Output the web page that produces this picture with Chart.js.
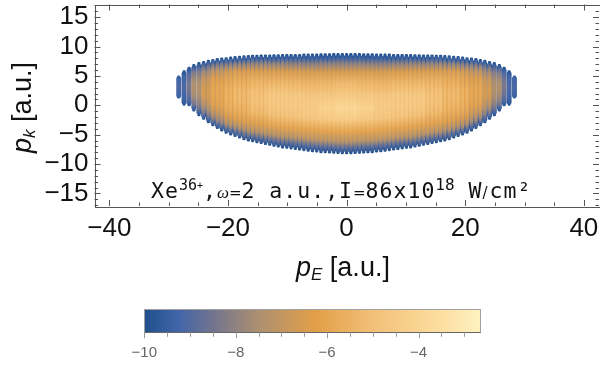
<!DOCTYPE html>
<html><head><meta charset="utf-8">
<script src="https://cdn.jsdelivr.net/npm/chart.js@4"></script>
<style>html,body{margin:0;padding:0;background:#fff;width:600px;height:372px;overflow:hidden}
#wrap{position:relative;width:600px;height:372px}
canvas{position:absolute;left:0}</style></head>
<body><div id="wrap"><canvas id="main" width="600" height="372" style="top:0"></canvas><canvas id="bar" width="600" height="77" style="top:295px"></canvas></div>
<script>
// Axis ticks
const xLabelTicks=[-40,-20,0,20,40];
const xMinorTicks=[-40,-35,-30,-25,-20,-15,-10,-5,0,5,10,15,20,25,30,35,40];
const yLabelTicks=[-15,-10,-5,0,5,10,15];
const yMinorTicks=[-17,-16,-15,-14,-13,-12,-11,-10,-9,-8,-7,-6,-5,-4,-3,-2,-1,0,1,2,3,4,5,6,7,8,9,10,11,12,13,14,15,16,17];
const barLabelTicks=[-10,-8,-6,-4];
const barMinorTicks=[-10,-9.5,-9,-8.5,-8,-7.5,-7,-6.5,-6,-5.5,-5,-4.5,-4,-3.5,-3];
// Fringes, pE >= 0 (the picture is mirror symmetric)
const fringePE=[0,0.72,1.44,2.16,2.88,3.6,4.32,5.04,5.76,6.48,7.2,7.92,8.64,9.36,10.08,10.8,11.52,12.24,12.96,13.68,14.4,15.12,15.84,16.56,17.3,18.05,18.8,19.55,20.3,21.05,21.8,22.55,23.3,24.1,24.9,25.75,26.55,27.4,28.3];
const fringeTop=[8.85,8.85,8.85,8.85,8.8,8.8,8.8,8.75,8.75,8.75,8.75,8.7,8.7,8.7,8.7,8.7,8.65,8.65,8.6,8.6,8.6,8.55,8.55,8.5,8.45,8.4,8.35,8.25,8.15,8.1,8.0,7.85,7.7,7.5,7.3,7.0,6.5,5.9,5.0];
const fringeBottom=[-8.3,-8.3,-8.25,-8.2,-8.15,-8.1,-8.1,-8.0,-7.95,-7.85,-7.75,-7.65,-7.55,-7.45,-7.35,-7.3,-7.15,-7.0,-6.85,-6.7,-6.55,-6.4,-6.25,-6.1,-5.9,-5.6,-5.35,-5.1,-4.8,-4.4,-4.0,-3.5,-3.0,-2.4,-1.8,-1.0,-0.1,0,1.2];
// log10 intensity: columns at valuePE, rows at fractions of the fringe (top to bottom)
const rowFraction=[0,.04,.1,.18,.3,.42,.54,.66,.78,.88,.95,1];
const valuePE=[0,3,6,9,12,15,18,20,22,24,25.5,26.5,27.4,28.3];
const pe0=[-10,-9.4,-8,-6.5,-5.2,-4.5,-3.9,-4.4,-6,-7.2,-8.9,-10];
const pe3=[-10,-9.4,-8,-6.5,-5.3,-4.6,-4.1,-4.5,-6,-7.2,-8.9,-10];
const pe6=[-10,-9.4,-8,-6.5,-5.4,-4.7,-4.4,-4.7,-6,-7.2,-8.9,-10];
const pe9=[-10,-9.3,-7.9,-6.4,-5.3,-4.6,-4.5,-4.8,-6,-7.2,-8.9,-10];
const pe12=[-10,-9.3,-7.8,-6.4,-5.3,-4.6,-4.5,-4.9,-6,-7.2,-8.8,-10];
const pe15=[-10,-9.2,-7.8,-6.4,-5.4,-4.9,-4.8,-5.2,-6.1,-7.2,-8.8,-10];
const pe18=[-10,-9.2,-7.8,-6.4,-5.6,-5.2,-5.2,-5.5,-6.2,-7.3,-8.8,-10];
const pe20=[-10,-9.2,-7.9,-6.6,-5.9,-5.5,-5.5,-5.7,-6.4,-7.4,-8.9,-10];
const pe22=[-10,-9.3,-8,-7,-6.2,-5.9,-5.9,-6.1,-6.8,-7.7,-9,-10];
const pe24=[-10,-9.4,-8.4,-7.6,-6.9,-6.6,-6.5,-6.8,-7.4,-8.2,-9.2,-10];
const pe25=[-10,-9.6,-8.9,-8.2,-7.7,-7.4,-7.4,-7.6,-8,-8.6,-9.4,-10];
const pe26=[-10,-9.7,-9.3,-8.9,-8.6,-8.4,-8.4,-8.5,-8.8,-9.1,-9.5,-10];
const pe27=[-10,-9.7,-9.5,-9.3,-9.2,-9.1,-9.1,-9.2,-9.3,-9.5,-9.6,-10];
const pe28=[-9.6,-9.4,-9.3,-9.2,-9.2,-9.1,-9.1,-9.2,-9.2,-9.3,-9.4,-9.6];
const valueColumns=[pe0,pe3,pe6,pe9,pe12,pe15,pe18,pe20,pe22,pe24,pe25,pe26,pe27,pe28];
const valleyDrop=[.2,.25,.3,.4,.5,.6,.7,.75,.7,.5,.2,0,0,0];
// Colour bar
const barRange=[-10,-2.64];
const cmapValues=[-10,-9.25,-8.5,-7.5,-6.25,-5,-3.7,-2.64];
const cmapColors=['#1f4f8b','#4265a9','#72748f','#ad9070','#e29f48','#f2c078','#fcdb9b','#fff2c0'];

const rgb=cmapColors.map(h=>[1,3,5].map(i=>parseInt(h.substr(i,2),16)));
function colorOf(v){
  if(v<=cmapValues[0])return cmapColors[0];
  for(let i=1;i<cmapValues.length;i++){
    if(v<=cmapValues[i]){
      const t=(v-cmapValues[i-1])/(cmapValues[i]-cmapValues[i-1]);
      const c=rgb[i].map((b,k)=>Math.round(rgb[i-1][k]+(b-rgb[i-1][k])*t));
      return `rgb(${c[0]},${c[1]},${c[2]})`;
    }
  }
  return cmapColors[cmapColors.length-1];
}
function nearestColumn(pe){
  let b=0;valuePE.forEach((p,i)=>{if(Math.abs(p-Math.abs(pe))<Math.abs(valuePE[b]-Math.abs(pe)))b=i;});
  return b;
}
const idx=fringePE.map((_,i)=>i);
const order=[...idx.slice(1).reverse().map(i=>({i,s:-1})),...idx.map(i=>({i,s:1}))];
const ridgeData=order.map(o=>({x:o.s*fringePE[o.i],y:[fringeBottom[o.i],fringeTop[o.i]]}));
const valleyData=order.map(o=>{const f=fringeTop[o.i]-fringeBottom[o.i];const d=Math.min(.35,f*.04);return {x:o.s*fringePE[o.i],y:[fringeBottom[o.i]+d,fringeTop[o.i]-d]};});

function fringeFill(drop){
  return ctx=>{
    const c=ctx.chart, d=ctx.raw; if(!c.chartArea||!d)return '#4265a9';
    const ys=c.scales.y, g=c.ctx.createLinearGradient(0,ys.getPixelForValue(d.y[1]),0,ys.getPixelForValue(d.y[0]));
    const k=nearestColumn(d.x), col=valueColumns[k];
    rowFraction.forEach((f,i)=>g.addColorStop(f,colorOf(col[i]-(drop?valleyDrop[k]:0))));
    return g;
  };
}
const MONO='"DejaVu Sans Mono"';
const frame={id:'frame',afterDatasetsDraw(c){
  const {ctx:g,chartArea:a,scales:{x,y}}=c;
  g.save();g.strokeStyle='#555';g.lineWidth=1;
  const px=v=>Math.round(v)+.5;
  g.strokeRect(px(a.left),px(a.top),Math.round(a.right-a.left),Math.round(a.bottom-a.top));
  g.beginPath();
  xMinorTicks.forEach(v=>{const p=px(x.getPixelForValue(v)),l=xLabelTicks.includes(v)?6:3.5;
    g.moveTo(p,a.bottom);g.lineTo(p,a.bottom-l);g.moveTo(p,a.top);g.lineTo(p,a.top+l);});
  yMinorTicks.forEach(v=>{const p=px(y.getPixelForValue(v)),l=yLabelTicks.includes(v)?6:3.5;
    g.moveTo(a.left,p);g.lineTo(a.left+l,p);g.moveTo(a.right,p);g.lineTo(a.right-l,p);});
  g.stroke();g.restore();
  runs(g,151,198,[['Xe','21.5px '+MONO,0,1],['36','15px '+MONO,-8,0],['+','10px '+MONO,-9,0],[',','21.5px '+MONO,0,1],['ω','italic 17px "Liberation Serif"',0,0],['=','15px "DejaVu Sans"',0,0],['2 a.u.,I','21.5px '+MONO,0,1],['=','15px "DejaVu Sans"',0,0],['86x10','21.5px '+MONO,0,1],['18','16px '+MONO,-8,0],[' W','21.5px '+MONO,0,1],['/','15px "DejaVu Sans"',0,2],['cm²','21.5px '+MONO,0,1]]);
  const F='27px "Liberation Sans"';
  runs(g,296,276,[['p','italic 27px "Liberation Sans"',0,0],['E','italic 17px "Liberation Sans"',4,0],[' [a.u.]',F,0,0]]);
  g.save();g.translate(31,153);g.rotate(-Math.PI/2);
  runs(g,0,0,[['p','italic 27px "Liberation Sans"',0,0],['k','italic 17px "Liberation Sans"',4,0],[' [a.u.]',F,0,0]]);
  g.restore();
}};
function runs(g,x,y,list){
  g.save();g.fillStyle='#111';g.textAlign='left';g.textBaseline='alphabetic';
  list.forEach(([t,f,dy,ls])=>{g.font=f;g.letterSpacing=ls+'px';g.fillText(t,x,y+dy);x+=g.measureText(t).width;});
  g.restore();
}
const minus=v=>String(v).replace('-','\u2212');
new Chart(document.getElementById('main'),{
  type:'bar',
  data:{datasets:[
    {label:'ridges',data:ridgeData,barThickness:2.6,grouped:false,order:1,backgroundColor:fringeFill(false),borderRadius:1.3,borderSkipped:false,borderWidth:0},
    {label:'valleys',data:valleyData,barThickness:4.3,grouped:false,order:2,backgroundColor:fringeFill(true),borderRadius:2,borderSkipped:false,borderWidth:0}
  ]},
  options:{responsive:false,animation:false,parsing:{xAxisKey:'x',yAxisKey:'y'},
    layout:{padding:{left:0,right:1,top:4.5,bottom:0}},
    plugins:{legend:{display:false},tooltip:{enabled:false}},
    scales:{
      x:{type:'linear',offset:false,min:-42.5,max:42.55,grid:{display:false,drawTicks:false},border:{display:false},
        afterBuildTicks:s=>{s.ticks=xLabelTicks.map(value=>({value}));},
        afterFit:s=>{s.height=166;s.paddingLeft=0;s.paddingRight=0;},
        ticks:{autoSkip:false,maxRotation:0,padding:7,color:'#111',font:{family:'"Liberation Sans"',size:26},callback:minus}},
      y:{type:'linear',min:-17.15,max:17.17,grid:{display:false,drawTicks:false},border:{display:false},
        afterBuildTicks:s=>{s.ticks=yLabelTicks.map(value=>({value}));},
        afterFit:s=>{s.width=94.5;s.paddingTop=0;s.paddingBottom=0;},
        ticks:{autoSkip:false,padding:6,color:'#111',font:{family:'"Liberation Sans"',size:26},callback:minus}}
    }},
  plugins:[frame]
});
const barFrame={id:'barFrame',afterDatasetsDraw(c){
  const {ctx:g,chartArea:a,scales:{x}}=c;
  g.save();g.lineWidth=1;g.strokeStyle='#a0a0a0';
  const px=v=>Math.round(v)+.5;
  g.strokeRect(px(a.left),px(a.top),Math.round(a.right-a.left),Math.round(a.bottom-a.top));
  g.strokeStyle='#666';g.beginPath();g.moveTo(a.left,px(a.bottom));g.lineTo(a.right,px(a.bottom));g.stroke();
  g.strokeStyle='#999';g.beginPath();
  barMinorTicks.forEach(v=>{const p=px(x.getPixelForValue(v));g.moveTo(p,a.bottom);g.lineTo(p,a.bottom+(barLabelTicks.includes(v)?6:4.5));});
  g.stroke();g.restore();
}};
new Chart(document.getElementById('bar'),{
  type:'bar',
  data:{labels:[''],datasets:[{data:[barRange],barPercentage:1,categoryPercentage:1,borderWidth:0,borderSkipped:false,
    backgroundColor:ctx=>{const c=ctx.chart;if(!c.chartArea)return '#e29f48';
      const s=c.scales.x,g=c.ctx.createLinearGradient(s.getPixelForValue(barRange[0]),0,s.getPixelForValue(barRange[1]),0);
      cmapValues.forEach((v,i)=>g.addColorStop((v-barRange[0])/(barRange[1]-barRange[0]),cmapColors[i]));return g;}}]},
  options:{indexAxis:'y',responsive:false,animation:false,
    layout:{padding:{left:144.3,right:119.3,top:14.3,bottom:0}},
    plugins:{legend:{display:false},tooltip:{enabled:false}},
    scales:{
      y:{display:false},
      x:{type:'linear',min:barRange[0],max:barRange[1],grid:{display:false,drawTicks:false},border:{display:false},
        afterBuildTicks:s=>{s.ticks=barLabelTicks.map(value=>({value}));},
        afterFit:s=>{s.height=39.7;},
        ticks:{autoSkip:false,maxRotation:0,padding:12,color:'#666',font:{family:'"Liberation Sans"',size:15},callback:minus}}
    }},
  plugins:[barFrame]
});
</script></body></html>
